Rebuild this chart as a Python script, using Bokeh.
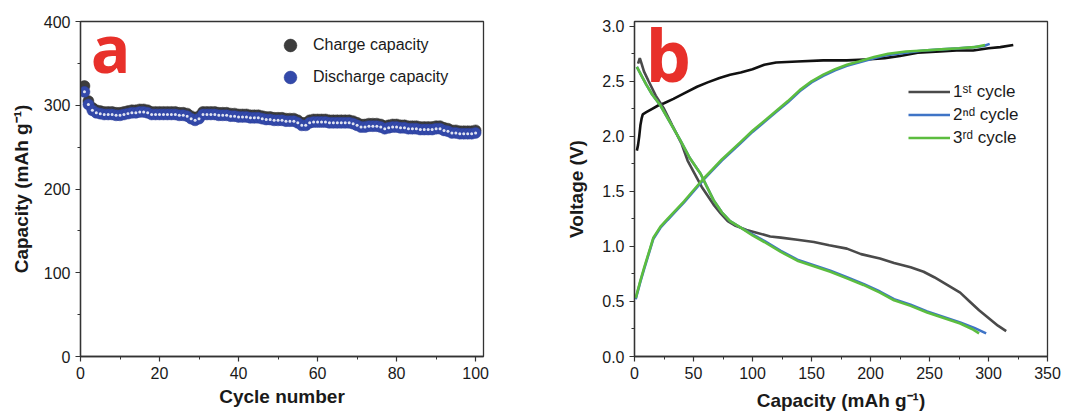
from bokeh.plotting import figure
from bokeh.layouts import row
from bokeh.models import (Range1d, SingleIntervalTicker, Legend, LegendItem, Label,
                          PrintfTickFormatter)
from bokeh.embed import file_html
from bokeh.resources import INLINE

# ---------------- data: panel a ----------------
cycles = list(range(1, 101))
discharge = [316, 301, 294, 291, 290, 289, 289, 289, 288, 288,
             289, 290, 291, 291, 292, 292, 291, 289, 289, 289,
             289, 289, 289, 289, 288, 288, 287, 284, 282, 284,
             289, 289, 289, 289, 288, 288, 288, 287, 287, 286,
             286, 286, 285, 285, 285, 284, 283, 283, 282, 282,
             282, 281, 281, 281, 279, 276, 276, 279, 280, 280,
             280, 280, 279, 279, 279, 279, 279, 279, 278, 276,
             274, 274, 275, 275, 275, 274, 272, 273, 274, 274,
             273, 273, 272, 272, 272, 271, 271, 271, 271, 272,
             272, 270, 269, 267, 267, 266, 266, 266, 266, 267]
charge = [323, 305, 297, 294, 293, 292, 292, 292, 291, 291,
          292, 293, 294, 294, 295, 295, 294, 292, 292, 292,
          292, 292, 292, 292, 291, 291, 290, 287, 285, 287,
          292, 292, 292, 292, 291, 291, 291, 290, 290, 289,
          289, 289, 288, 288, 288, 287, 286, 286, 285, 285,
          285, 284, 284, 284, 282, 279, 279, 282, 283, 283,
          283, 283, 282, 282, 282, 282, 282, 282, 281, 279,
          277, 277, 278, 278, 278, 277, 275, 276, 277, 277,
          276, 276, 275, 275, 275, 274, 274, 274, 274, 275,
          275, 273, 272, 270, 270, 269, 269, 269, 269, 270]

# ---------------- data: panel b ----------------
c1_chg_cap = [2, 3, 4, 5, 6, 7, 10, 15, 20, 25, 33, 42, 53, 62, 72, 81, 90, 100, 110, 120,
              138, 160, 180, 200, 212, 225, 240, 259, 273, 287, 300, 310, 321]
c1_chg_v = [1.87, 1.92, 2.00, 2.10, 2.16, 2.20, 2.22, 2.25, 2.28, 2.30, 2.34, 2.39, 2.45, 2.49,
            2.53, 2.56, 2.58, 2.61, 2.65, 2.67, 2.68, 2.69, 2.69, 2.70, 2.71, 2.73, 2.76, 2.77,
            2.78, 2.78, 2.80, 2.81, 2.83]
c1_dis_cap = [3, 4.5, 6, 8, 12, 18, 25, 32, 40, 45, 50, 57, 62, 67, 73, 79, 85, 95, 105, 115,
              124, 138, 152, 165, 180, 192, 208, 220, 234, 245, 254, 265, 276, 284, 292, 300,
              308, 315]
c1_dis_v = [2.66, 2.71, 2.66, 2.59, 2.50, 2.37, 2.25, 2.10, 1.93, 1.78, 1.68, 1.54, 1.46, 1.38,
            1.30, 1.23, 1.19, 1.15, 1.12, 1.09, 1.08, 1.06, 1.04, 1.01, 0.98, 0.93, 0.89, 0.85,
            0.81, 0.77, 0.72, 0.65, 0.58, 0.50, 0.42, 0.35, 0.28, 0.23]

c2_chg_cap = [1, 3, 5, 8, 12, 16, 22, 28, 35, 42, 50, 58, 66, 74, 82, 90, 100, 110, 120, 130,
              140, 150, 160, 170, 180, 190, 203, 215, 230, 245, 260, 275, 288, 296, 301]
c2_chg_v = [0.52, 0.60, 0.68, 0.79, 0.93, 1.07, 1.17, 1.24, 1.32, 1.40, 1.50, 1.60, 1.69, 1.78,
            1.86, 1.94, 2.04, 2.13, 2.22, 2.31, 2.41, 2.49, 2.55, 2.60, 2.64, 2.67, 2.71, 2.74,
            2.76, 2.78, 2.79, 2.80, 2.81, 2.82, 2.84]
c2_dis_cap = [2, 6, 10, 15, 22, 30, 39, 47, 56, 61, 67, 74, 81, 90, 100, 110, 124, 138, 152, 166,
              180, 194, 208, 220, 234, 248, 262, 276, 288, 298]
c2_dis_v = [2.63, 2.55, 2.47, 2.38, 2.28, 2.13, 1.96, 1.80, 1.66, 1.55, 1.42, 1.31, 1.23, 1.17,
            1.11, 1.05, 0.96, 0.88, 0.83, 0.78, 0.72, 0.66, 0.59, 0.52, 0.47, 0.41, 0.36, 0.31,
            0.26, 0.21]

c3_chg_cap = [1, 3, 5, 8, 12, 16, 22, 28, 35, 42, 50, 58, 66, 74, 82, 90, 100, 110, 120, 130,
              140, 150, 160, 170, 180, 190, 203, 215, 230, 245, 260, 275, 288, 297]
c3_chg_v = [0.53, 0.61, 0.69, 0.80, 0.94, 1.08, 1.18, 1.25, 1.33, 1.41, 1.51, 1.61, 1.70, 1.79,
            1.87, 1.95, 2.05, 2.14, 2.23, 2.32, 2.42, 2.50, 2.56, 2.61, 2.65, 2.68, 2.72, 2.75,
            2.77, 2.78, 2.79, 2.80, 2.81, 2.83]
c3_dis_cap = [2, 6, 10, 15, 22, 30, 39, 47, 56, 61, 67, 74, 81, 90, 100, 110, 124, 138, 152, 166,
              180, 194, 208, 220, 234, 248, 262, 276, 286, 292]
c3_dis_v = [2.63, 2.55, 2.47, 2.38, 2.28, 2.13, 1.96, 1.80, 1.66, 1.55, 1.42, 1.31, 1.23, 1.17,
            1.10, 1.04, 0.95, 0.87, 0.82, 0.77, 0.71, 0.65, 0.58, 0.51, 0.46, 0.40, 0.35, 0.30,
            0.25, 0.21]

TICK_FONT = "Liberation Sans"
TITLE_FONT = "Liberation Sans"
AX_COLOR = "#333333"
RED = "#e8302a"


def style(p, xlabel, ylabel, ylab_standoff, xlab_standoff):
    p.outline_line_color = AX_COLOR
    p.outline_line_width = 1.3
    p.xgrid.visible = False
    p.ygrid.visible = False
    for ax in (p.xaxis[0], p.yaxis[0]):
        ax.axis_line_color = AX_COLOR
        ax.axis_line_width = 1.3
        ax.major_tick_line_color = AX_COLOR
        ax.minor_tick_line_color = AX_COLOR
        ax.major_tick_line_width = 1.2
        ax.minor_tick_line_width = 1.0
        ax.major_tick_in = 0
        ax.major_tick_out = 5
        ax.minor_tick_in = 0
        ax.minor_tick_out = 3
        ax.major_label_text_font = TICK_FONT
        ax.major_label_text_font_size = "16px"
        ax.major_label_text_color = "#1a1a1a"
        ax.axis_label_text_font = TITLE_FONT
        ax.axis_label_text_font_size = "19px"
        ax.axis_label_text_font_style = "bold"
        ax.axis_label_text_color = "#1a1a1a"
        ax.major_label_standoff = 5
    p.xaxis.axis_label = xlabel
    p.yaxis.axis_label = ylabel
    p.yaxis.axis_label_standoff = ylab_standoff
    p.xaxis.axis_label_standoff = xlab_standoff


# ---------------- panel a ----------------
pa = figure(frame_width=403, frame_height=335, min_border_left=80, min_border_right=55,
            min_border_top=21, min_border_bottom=58,
            x_range=Range1d(0, 102), y_range=Range1d(0, 400),
            output_backend="svg", toolbar_location=None)
style(pa, "Cycle number", "Capacity (mAh g\u207b\u00b9)", 9, 4)
pa.xaxis.ticker = SingleIntervalTicker(interval=20, num_minor_ticks=2)
pa.yaxis.ticker = SingleIntervalTicker(interval=100, num_minor_ticks=2)

r_chg = pa.scatter(cycles, charge, size=11, fill_color="#3d3d3d", line_color="#2a2a2a",
                   line_width=0.5)
r_dis = pa.scatter(cycles, discharge, size=11, fill_color="#3349aa", line_color="#2d3f98",
                   line_width=0.5)
pa.scatter(cycles, discharge, size=3, fill_color="white", line_color=None, fill_alpha=0.85)

leg_a = Legend(items=[LegendItem(label="Charge capacity", renderers=[r_chg]),
                      LegendItem(label="Discharge capacity", renderers=[r_dis])],
               location=(194, 263), padding=0, margin=0, spacing=-9,
               glyph_width=32, glyph_height=32, label_standoff=7,
               label_text_font=TICK_FONT, label_text_font_size="16px",
               label_text_color="#1a1a1a",
               border_line_alpha=0, background_fill_alpha=0)
pa.add_layout(leg_a)

pa.add_layout(Label(x=2.6, y=369, text="a", text_font="Open Sans", text_font_style="bold",
                    text_font_size="66px", text_color=RED, text_baseline="alphabetic"))

# ---------------- panel b ----------------
pb = figure(frame_width=413, frame_height=335, min_border_left=96, min_border_right=20,
            min_border_top=21, min_border_bottom=58,
            x_range=Range1d(0, 350), y_range=Range1d(0, 3.043),
            output_backend="svg", toolbar_location=None)
style(pb, "Capacity (mAh g\u207b\u00b9)", "Voltage (V)", 12, 8)
pb.xaxis.ticker = SingleIntervalTicker(interval=50, num_minor_ticks=2)
pb.yaxis.ticker = SingleIntervalTicker(interval=0.5, num_minor_ticks=2)
pb.yaxis.formatter = PrintfTickFormatter(format="%.1f")

BLACK = "#111111"
GRAY = "#4a4a4a"
BLUE = "#3f74c6"
GREEN = "#5cbd3f"
LW = 2.6

r1c = pb.line(c1_chg_cap, c1_chg_v, line_color=BLACK, line_width=LW)
r1d = pb.line(c1_dis_cap, c1_dis_v, line_color=GRAY, line_width=LW)
r2c = pb.line(c2_chg_cap, c2_chg_v, line_color=BLUE, line_width=LW)
r2d = pb.line(c2_dis_cap, c2_dis_v, line_color=BLUE, line_width=LW)
r3c = pb.line(c3_chg_cap, c3_chg_v, line_color=GREEN, line_width=LW)
r3d = pb.line(c3_dis_cap, c3_dis_v, line_color=GREEN, line_width=LW)

leg_b = Legend(items=[LegendItem(label="1\u02e2\u1d57 cycle", renderers=[r1d]),
                      LegendItem(label="2\u207f\u1d48 cycle", renderers=[r2d]),
                      LegendItem(label="3\u02b3\u1d48 cycle", renderers=[r3d])],
               location=(274, 207), padding=0, margin=0, spacing=0,
               glyph_width=42, glyph_height=23, label_height=23, label_standoff=3,
               label_text_font=TICK_FONT, label_text_font_size="17px",
               label_text_color="#1a1a1a",
               border_line_alpha=0, background_fill_alpha=0)
pb.add_layout(leg_b)

pb.add_layout(Label(x=9.3, y=2.75, text="b", text_font="Open Sans", text_font_style="bold",
                    text_font_size="72px", text_color=RED, text_baseline="alphabetic"))

layout = row(pa, pb)
open("out.html", "w").write(file_html(layout, INLINE))
